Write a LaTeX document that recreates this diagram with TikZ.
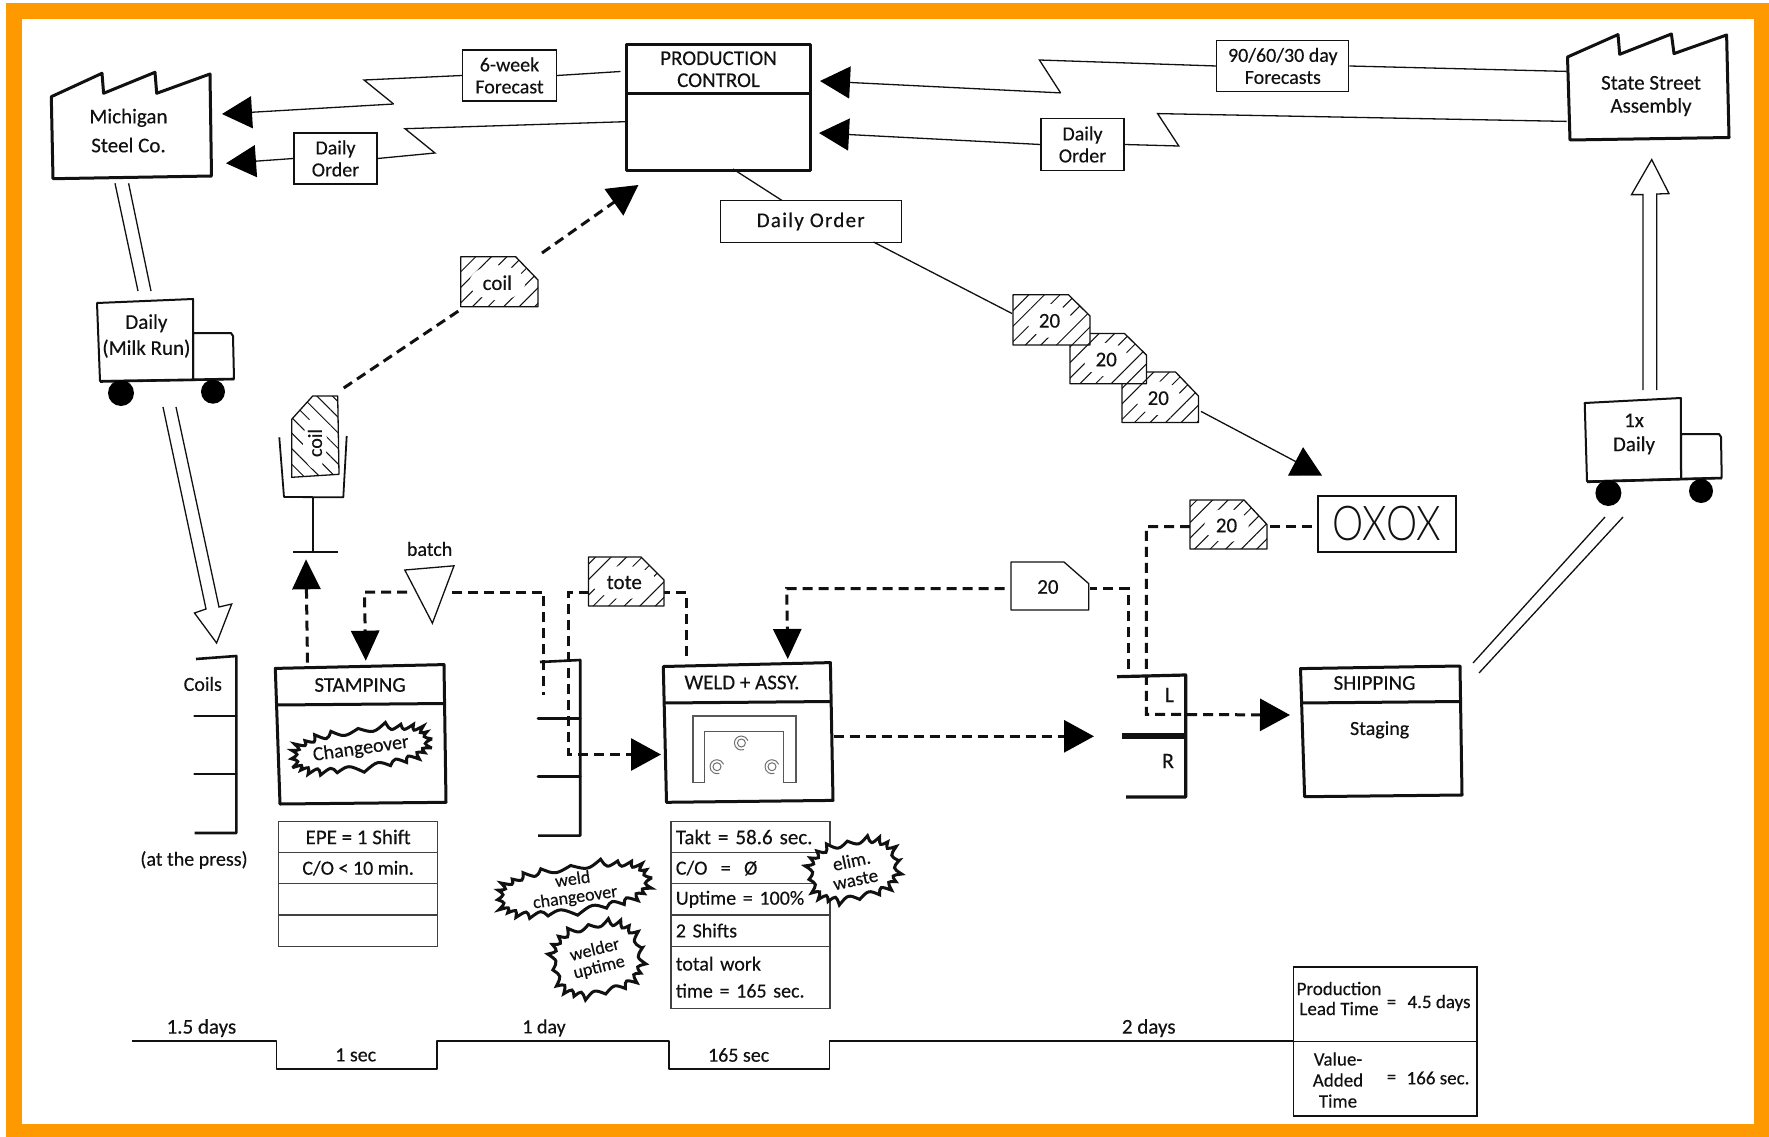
\documentclass[tikz,border=0pt]{standalone}
\usepackage{fontspec}
\setmainfont{Carlito}[FakeBold=0.3]
\newfontfamily\oxfont{Lato Light}
\usetikzlibrary{arrows.meta,patterns.meta,shapes.geometric,calc}
\definecolor{ink}{HTML}{111111}
\definecolor{frameorange}{HTML}{FF9900}
\newcommand{\fsz}[1]{\fontsize{#1}{#1}\selectfont}
\tikzset{
  lbl/.style={inner sep=0pt,align=center,text=ink,font=\fsz{20}},
  thinline/.style={draw=ink,line width=1.3pt},
  heavy/.style={draw=ink,line width=3pt,line join=round,fill=white},
  prong/.style={draw=ink,line width=2.6pt,line cap=round},
  infobox/.style={draw=ink,line width=1.3pt,fill=white,inner sep=0pt,minimum width=#1,align=center,text=ink,font=\fsz{20}},
  rowbox/.style={draw=ink!80,line width=1.3pt,fill=white,anchor=north west,inner ysep=0pt,inner xsep=5pt,align=left,text width=149pt,minimum height=31.2pt,text=ink,font=\fsz{20}},
  srowbox/.style={draw=ink!80,line width=1.3pt,fill=white,anchor=north west,inner sep=0pt,align=center,minimum width=159pt,minimum height=31.2pt,text=ink,font=\fsz{20}},
  elec/.style={draw=ink,line width=1.3pt,line join=miter},
  bigtip/.style={-{Triangle[length=30pt,width=32pt,color=black]}},
  vtip/.style={-{Triangle[length=30pt,width=28pt,color=black]}},
  dashline/.style={draw=ink,line width=3pt,dash pattern=on 10pt off 6pt},
  hatchA/.style={draw=ink,line width=1.3pt,line join=round,fill=white,postaction={pattern={Lines[angle=45,distance=11pt,line width=1pt]},pattern color=ink}},
  hatchB/.style={draw=ink,line width=1.3pt,line join=round,fill=white,postaction={pattern={Lines[angle=-45,distance=11pt,line width=1pt]},pattern color=ink}},
  plainkan/.style={draw=ink,line width=1.3pt,line join=round,fill=white},
  kanhalo/.style={ellipse,fill=white,inner sep=5pt,text=ink,font=\fsz{21}},
  kanplain/.style={inner sep=0pt,text=ink,font=\fsz{21}},
  opcirc/.style={draw=ink!60,line width=1pt},
  declare function={ex(\t)=cos(\t)*pow(abs(cos(\t))+0.01,-0.3); ey(\t)=sin(\t)*pow(abs(sin(\t))+0.01,-0.3);}
}
% name, x1, y1, x2, y2, cutx, cuty, style, label
\newcommand{\kanban}[9]{%
  \path[#8] (#2,#3) -- (#6,#3) -- (#4,#7) -- (#4,#5) -- (#2,#5) -- cycle;
  \node[inner sep=0pt,minimum width={(#4-#2)*1pt},minimum height={(#5-#3)*1pt}] (#1) at ({(#2+#4)/2},{(#3+#5)/2}) {};
  \node[#9] at ({(#2+#4)/2-2},{(#3+#5)/2+1}) {\csname kantext#1\endcsname};
}
% name, cx, cy, rx, ry, rot, n, font size, text
\newcommand{\burst}[9]{%
  \begin{scope}[shift={(#2,#3)},rotate=#6]
    \path[draw=ink,fill=white,line width=3pt,line join=miter,miter limit=4]
      ({#4*ex(0)},{#5*ey(0)})
      \foreach \k [evaluate=\k as \a using \k*360/#7, evaluate=\k as \m using (\k-0.5)*360/#7, evaluate=\k as \j using 1.5*sin(137*\k)] in {1,...,#7} {
        .. controls ({(#4-8)*ex(\m)},{(#5-8)*ey(\m)}) .. ({(#4+\j)*ex(\a)},{(#5+\j)*ey(\a)})
      } -- cycle;
    \node[lbl,font=\fsz{#8},rotate=#6] (#1) at (0,0) {#9};
  \end{scope}
}
\begin{document}
\begin{tikzpicture}[x=1pt,y=-1pt]
\useasboundingbox (0,0) rectangle (1769,1137);
% frame
\fill[frameorange] (6,3.5) rectangle (1769,1137);
\fill[white] (22,19) rectangle (1753.5,1124);

% ---------- coordinates for free connector ends
\coordinate (pcEa) at (620.5,71.5);
\coordinate (zaA) at (364,80);
\coordinate (zaB) at (393.6,104);
\coordinate (zaT) at (222,114);
\coordinate (pcEb) at (625,121.7);
\coordinate (zbA) at (405,128.7);
\coordinate (zbB) at (435,153);
\coordinate (zbT) at (226,163.3);
\coordinate (ssEa) at (1566.5,71.4);
\coordinate (zcA) at (1039.4,60);
\coordinate (zcB) at (1060.6,92.9);
\coordinate (zcT) at (820,81);
\coordinate (ssEb) at (1566.5,121.4);
\coordinate (zdA) at (1157.6,113.6);
\coordinate (zdB) at (1178.8,146);
\coordinate (zdT) at (819,133);

% ---------- factories
\path[heavy] (51.3,96.7) -- (102,73.3) -- (103.6,93.3) -- (155,72.3) -- (156.7,93.3) -- (210,74) -- (211.5,176) -- (53,178.7) -- cycle;
\node[lbl,font=\fsz{21},text depth=0pt] (michigan) at (128.5,130.5) {Michigan\\[8pt]Steel Co.};
\path[heavy] (1567.5,57) -- (1618,34.6) -- (1619.7,54.3) -- (1671.4,34) -- (1674,53.6) -- (1726.6,35) -- (1729,137.5) -- (1570,140) -- cycle;
\node[lbl,font=\fsz{21}] (assembly) at (1651,96) {State Street\\[2pt]Assembly};

% ---------- production control
\node[heavy,anchor=north west,minimum width=184pt,minimum height=49.5pt,inner sep=0pt,align=center,text=ink,font=\fsz{21}] (pcH) at (625,43) {PRODUCTION\\[1pt]CONTROL};
\node[heavy,anchor=north west,minimum width=184pt,minimum height=76.5pt,inner sep=0pt] (pcB) at (625,92.5) {};

% ---------- information boxes and electronic lines
\node[infobox=94pt,minimum height=51pt] (fcA) at (509.5,75.5) {6-week\\[2pt]Forecast};
\node[infobox=83pt,minimum height=51pt] (doA) at (335.5,158.5) {Daily\\[2pt]Order};
\node[infobox=132pt,minimum height=51pt] (fcB) at (1282.8,66) {90/60/30 day\\[2pt]Forecasts};
\node[infobox=83pt,minimum height=52pt] (doB) at (1082.5,144.5) {Daily\\[2pt]Order};
\draw[elec] (pcEa) -- (fcA.east);
\draw[elec] (fcA.west) -- (zaA) -- (zaB);
\draw[elec,bigtip] (zaB) -- (zaT);
\draw[elec] (pcEb) -- (zbA) -- (zbB) -- (doA.east);
\draw[elec,bigtip] (doA.west) -- (zbT);
\draw[elec] (ssEa) -- (fcB.east);
\draw[elec] (fcB.west) -- (zcA) -- (zcB);
\draw[elec,bigtip] (zcB) -- (zcT);
\draw[elec] (ssEb) -- (zdA) -- (zdB) -- (doB.east);
\draw[elec,bigtip] (doB.west) -- (zdT);

% ---------- Michigan truck
\coordinate (mtA) at (115,183.3);
\coordinate (mtB) at (128.6,183.3);
\coordinate (mtC) at (138,291);
\coordinate (mtD) at (151,291);
\draw[thinline] (mtA) -- (mtC);
\draw[thinline] (mtB) -- (mtD);
\path[draw=ink,line width=2pt,fill=white,line join=round] (193,333) -- (231,333) -- (233,336) -- (234,379) -- (193,380) -- cycle;
\path[draw=ink,line width=2pt,fill=white,line join=round] (97,303) -- (193,299) -- (193,380) -- (100,381) -- cycle;
\draw[ink,line width=2.6pt] (100,381.5) -- (234,379);
\fill[black] (121,393) ellipse (13pt and 13pt);
\fill[black] (213,391.7) ellipse (12pt and 12pt);
\node[lbl,font=\fsz{21}] (mtruck) at (146.4,336) {Daily\\[5pt](Milk Run)};

% ---------- hollow arrows
\path[draw=ink,line width=1.3pt,fill=white,line join=miter] (163,407) -- (206,609) -- (194.5,613) -- (216.6,643) -- (231.7,604) -- (219,607) -- (176,407);
\path[draw=ink,line width=1.3pt,fill=white,line join=miter] (1643,390) -- (1643,194.6) -- (1631.5,194.6) -- (1651.7,159.6) -- (1669,193.6) -- (1656.7,194) -- (1656.7,390);

% ---------- assembly truck
\path[draw=ink,line width=2pt,fill=white,line join=round] (1681,434) -- (1719,434) -- (1721,437) -- (1721.7,478) -- (1681,479) -- cycle;
\path[draw=ink,line width=2pt,fill=white,line join=round] (1584.7,403) -- (1680.8,398) -- (1681,479) -- (1587,481.4) -- cycle;
\draw[ink,line width=2.6pt] (1587,481.8) -- (1721.7,478);
\fill[black] (1608.4,493) ellipse (13pt and 13pt);
\fill[black] (1701,491) ellipse (12pt and 12pt);
\node[lbl,font=\fsz{21}] (atruck) at (1634,434) {1x\\[3pt]Daily};
\coordinate (stA) at (1473,663);
\coordinate (stB) at (1479,673);
\coordinate (stC) at (1605,517);
\coordinate (stD) at (1623,517);
\draw[thinline] (stA) -- (stC);
\draw[thinline] (stB) -- (stD);

% ---------- daily order line and batch kanbans
\node[infobox=181pt,minimum height=42pt,font=\fsz{21}] (dailyOrder) at (810.7,221.5) {\addfontfeature{LetterSpace=6}Daily Order};
\coordinate (pcDown) at (733,169);
\coordinate (doIn) at (782,200.5);
\coordinate (doOut) at (873.5,242);
\coordinate (kanIn) at (1012,313.5);
\coordinate (kanOut) at (1201,411.4);
\coordinate (schedIn) at (1322,475.5);
\draw[elec] (pcDown) -- (doIn);
\draw[elec] (doOut) -- (kanIn);
\draw[elec,bigtip] (kanOut) -- (schedIn);
\expandafter\def\csname kantextkC\endcsname{20}
\expandafter\def\csname kantextkB\endcsname{20}
\expandafter\def\csname kantextkA\endcsname{20}
\expandafter\def\csname kantextkD\endcsname{20}
\expandafter\def\csname kantextkE\endcsname{20}
\expandafter\def\csname kantextkCoil\endcsname{coil}
\expandafter\def\csname kantextkTote\endcsname{tote}
\kanban{kC}{1122}{372}{1198.5}{422.4}{1175.5}{396}{hatchA}{kanhalo}
\kanban{kB}{1070}{333.5}{1146.4}{383.7}{1124.5}{355}{hatchA}{kanhalo}
\kanban{kA}{1013}{294.7}{1090}{345}{1068.4}{316}{hatchA}{kanhalo}

% ---------- scheduling board
\node[draw=ink,line width=1.8pt,fill=white,minimum width=138pt,minimum height=55.5pt,inner sep=0pt,text=ink,font=\fsz{48}] (oxox) at (1386.7,524) {\oxfont\scalebox{0.82}[1]{OXOX}};

% ---------- coil signal
\coordinate (binA) at (279.3,437.3);
\coordinate (binB) at (284,497);
\coordinate (binC) at (343.3,497.3);
\coordinate (binD) at (346.7,436);
\coordinate (postTop) at (312.7,497.3);
\coordinate (postCross) at (312.7,552);
\coordinate (crossL) at (293.3,552.3);
\coordinate (crossR) at (337.7,552.3);
\path[hatchB] (291.7,477.3) -- (291.7,419.3) -- (312.7,396) -- (337.7,396) -- (339,474.3) -- cycle;
\fill[white] (315,443) ellipse (12pt and 26pt);
\node[lbl,rotate=90] (coilV) at (315,443) {coil};
\draw[ink,line width=1.8pt,line join=round] (binA) -- (binB) -- (binC) -- (binD);
\draw[ink,line width=1.8pt] (postTop) -- (postCross);
\draw[ink,line width=2.2pt] (crossL) -- (crossR);
\coordinate (coilSigOut) at (343.7,388);
\coordinate (coilKanIn) at (460,310);
\coordinate (coilKanOut) at (542,253);
\coordinate (pcIn) at (638.4,185);
\draw[dashline] (coilSigOut) -- (coilKanIn);
\draw[dashline,bigtip] (coilKanOut) -- (pcIn);
\kanban{kCoil}{460.7}{256.7}{538}{306.7}{515.6}{280}{hatchA}{kanhalo}

% ---------- supermarkets
\draw[ink,line width=2.6pt,line join=round] (196,659) -- (236.3,656) -- (236.3,833) -- (194.5,833);
\draw[prong] (194.5,716) -- (236.3,716);
\draw[prong] (194.5,774) -- (236.3,774);
\node[lbl] (coilsT) at (202.8,684) {Coils};
\node[lbl] (pressT) at (194,860) {(at the press)};

\draw[ink,line width=2.6pt,line join=round] (540,662) -- (580.2,660) -- (580.2,835.6) -- (538,835.6);
\draw[prong] (538,718.5) -- (580.2,718.5);
\draw[prong] (538,776.3) -- (580.2,776.3);

\draw[ink,line width=3.2pt,line join=round] (1117,676.7) -- (1185.7,675) -- (1185.7,797) -- (1126,797);
\draw[ink,line width=6pt] (1122,736.3) -- (1185.7,736.3);
\node[lbl,font=\fsz{22}] (lblL) at (1169.4,695) {L};
\node[lbl,font=\fsz{22}] (lblR) at (1168,761) {R};

% ---------- dashed flows lower
\coordinate (stUp) at (307.5,662.6);
\coordinate (stUpT) at (306,559.3);
\draw[dashline,vtip] (stUp) -- (stUpT);

\node[lbl] (batchT) at (429.6,549) {batch};
\coordinate (batchL) at (407,592);
\coordinate (batchLk) at (364.4,592);
\coordinate (stampIn) at (365.8,660.7);
\coordinate (batchR) at (451.6,592);
\coordinate (batchRk) at (543.5,592);
\coordinate (batchEnd) at (543.5,695);
\draw[dashline,vtip] (batchL) -- (batchLk) -- (stampIn);
\draw[dashline] (batchR) -- (batchRk) -- (batchEnd);
\path[draw=ink,line width=1.3pt,fill=white,line join=miter] (404.8,570) -- (454,565.8) -- (432.4,623.2) -- cycle;

\coordinate (weldUp) at (686,655.8);
\coordinate (toteRk) at (686,592);
\coordinate (toteR) at (664,592);
\coordinate (toteL) at (588.5,592);
\coordinate (toteLk) at (568.7,592);
\coordinate (toteDn) at (568.7,754.5);
\coordinate (weldIn) at (661,754.5);
\draw[dashline] (weldUp) -- (toteRk) -- (toteR);
\draw[dashline,bigtip] (toteL) -- (toteLk) -- (toteDn) -- (weldIn);
\kanban{kTote}{588.5}{557}{664}{606}{641}{580}{hatchA}{kanhalo}

\coordinate (bR) at (1128.6,669.4);
\coordinate (bRk) at (1128.6,588.6);
\coordinate (bEr) at (1090,588.6);
\coordinate (bEl) at (1004.6,588.6);
\coordinate (bLk) at (786.7,588.6);
\coordinate (weldTop) at (787.8,659);
\draw[dashline] (bR) -- (bRk) -- (bEr);
\draw[dashline,vtip] (bEl) -- (bLk) -- (weldTop);
\kanban{kE}{1011}{562}{1088.8}{610}{1064}{583.7}{plainkan}{kanplain}

\coordinate (oxGap) at (1311.7,526.5);
\coordinate (oxL) at (1146.4,526.5);
\coordinate (oxDn) at (1146.4,714.3);
\coordinate (shipIn) at (1290,715);
\coordinate (kDL) at (1190,526.5);
\coordinate (kDR) at (1267,526.5);
\draw[dashline] (oxGap) -- (kDR);
\draw[dashline,bigtip] (kDL) -- (oxL) -- (oxDn) -- (shipIn);
\kanban{kD}{1190}{500}{1267}{549}{1244}{524.5}{hatchA}{kanhalo}

\coordinate (weldOut) at (833.7,736.3);
\coordinate (lrIn) at (1094,736.3);
\draw[dashline,bigtip] (weldOut) -- (lrIn);

% ---------- process boxes
\path[heavy] (275.3,668.4) -- (444,664.6) -- (446,802.3) -- (280,804) -- cycle;
\draw[ink,line width=3pt] (276,705) -- (445,703.5);
\node[lbl,font=\fsz{21}] (stamping) at (360,685) {STAMPING};
\burst{changeT}{361}{749}{71}{22}{8}{24}{20}{Changeover}

\path[heavy] (663.3,666.5) -- (830.4,662.6) -- (833,800.4) -- (666.5,802.3) -- cycle;
\draw[ink,line width=3pt] (664,703) -- (831,701.5);
\node[lbl,font=\fsz{21}] (weldT) at (742,682.5) {WELD + ASSY.};
\path[draw=ink!70,line width=1.3pt,fill=white] (693,782.5) -- (693,716) -- (796,716) -- (796,782.5) -- (783.6,782.5) -- (783.6,731.5) -- (704.6,731.5) -- (704.6,782.5) -- cycle;
\foreach \cx/\cy in {741.4/743,717/766.7,772/766.7} {
  \draw[opcirc] (\cx,\cy) circle (4pt);
  \draw[opcirc] (\cx-7,\cy) arc (180:20:7pt);
  \draw[opcirc] (\cx-7,\cy) arc (-180:-70:7pt);
}

\path[heavy] (1300.5,668.6) -- (1460,666) -- (1462,795) -- (1304.6,796.7) -- cycle;
\draw[ink,line width=3pt] (1301,703) -- (1461,701.5);
\node[lbl,font=\fsz{21}] (shipT) at (1374.5,683) {SHIPPING};
\node[lbl] (stagT) at (1379.6,729.8) {Staging};

% ---------- data boxes
\node[srowbox,font=\fsz{21}] (sa) at (278,820.7) {EPE = 1 Shift};
\node[srowbox] (sb) at (278,851.9) {C/O < 10 min.};
\node[srowbox] (sc) at (278,883.1) {};
\node[srowbox] (sd) at (278,914.3) {};
\node[rowbox,font=\fsz{21}] (wa) at (670.2,820.7) {Takt = 58.6 sec.};
\node[rowbox] (wb) at (670.2,851.9) {C/O\ \ =\ \ Ø};
\node[rowbox] (wc) at (670.2,883.1) {Uptime = 100\%};
\node[rowbox] (wd) at (670.2,914.3) {2 Shifts};
\node[rowbox,minimum height=62pt] (we) at (670.2,945.5) {total work\\[7pt]time = 165 sec.};

% ---------- kaizen bursts
\burst{elimT}{853.5}{870}{47}{31}{12}{20}{19}{elim.\\waste}
\burst{weldCh}{574}{889}{78}{25}{8}{24}{18}{weld\\changeover}
\burst{welderUp}{597}{959}{47}{37}{14}{20}{18}{welder\\uptime}

% ---------- timeline
\node[draw=ink,line width=1.6pt,fill=white,anchor=north west,inner sep=0pt,minimum width=183.4pt,minimum height=74.5pt] (leadA) at (1292.6,966) {};
\node[draw=ink,line width=1.6pt,fill=white,anchor=north west,inner sep=0pt,minimum width=183.4pt,minimum height=74.5pt] (leadB) at (1292.6,1040.5) {};
\coordinate (tlStart) at (132,1041);
\coordinate (tlEnd) at (1292.6,1041);
\draw[ink,line width=1.5pt,line join=round] (tlStart) -- (276.3,1041) -- (276.3,1069) -- (437,1069) -- (437,1041) -- (668.8,1041) -- (668.8,1069) -- (829.5,1069) -- (829.5,1041) -- (tlEnd);
\node[lbl,font=\fsz{21}] (t1) at (201.4,1028) {1.5 days};
\node[lbl] (t2) at (355.7,1055) {1 sec};
\node[lbl] (t3) at (544,1028) {1 day};
\node[lbl] (t4) at (738.6,1055) {165 sec};
\node[lbl,font=\fsz{21}] (t5) at (1148.7,1028) {2 days};
\node[lbl,font=\fsz{19}] (l1) at (1339,998.5) {Production\\[1pt]Lead Time};
\node[lbl,font=\fsz{19}] (l2) at (1391.6,1004) {=};
\node[lbl,font=\fsz{19}] (l3) at (1439,1003) {4.5 days};
\node[lbl,font=\fsz{19}] (l4) at (1338,1080) {Value-\\[2pt]Added\\[2pt]Time};
\node[lbl,font=\fsz{19}] (l5) at (1391.6,1079) {=};
\node[lbl,font=\fsz{19}] (l6) at (1438,1078) {166 sec.};
\end{tikzpicture}
\end{document}
